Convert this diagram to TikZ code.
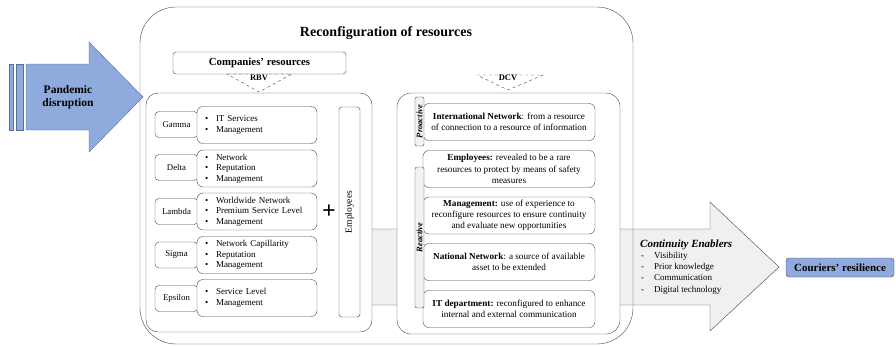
\documentclass[tikz,border=0pt]{standalone}
\usepackage{fontspec}
\setmainfont{Liberation Serif}
\usetikzlibrary{positioning, calc}
\definecolor{shockblue}{RGB}{143, 170, 220}
\definecolor{shockedge}{RGB}{90, 110, 150}
\definecolor{lineg}{RGB}{70, 70, 70}
\definecolor{flowgray}{RGB}{240, 240, 240}
\newcommand{\blt}{\makebox[11pt][l]{\textbullet}}
\newcommand{\dsh}{\makebox[13pt][l]{-}}

\begin{document}
\begin{tikzpicture}[
    x=1pt, y=-1pt,
    firmbox/.style={draw=lineg, thin, fill=white, rounded corners=4pt, minimum width=43pt, minimum height=26pt, inner sep=0pt, font=\fontsize{8.8pt}{10pt}\selectfont},
    resbox/.style={draw=lineg, thin, fill=white, rounded corners=6pt, text width=104pt, inner xsep=8pt, inner ysep=0pt, align=left, minimum height=37pt, font=\fontsize{9pt}{10.6pt}\selectfont},
    dcvbox/.style={draw=lineg, thin, fill=white, rounded corners=6pt, minimum width=172pt, minimum height=37pt, inner sep=0pt, align=center, font=\fontsize{9.2pt}{11.2pt}\selectfont},
    sidetab/.style={draw=lineg, thin, fill=gray!10, rounded corners=2pt, minimum width=9pt, inner sep=0pt},
    tabtext/.style={rotate=90, inner sep=0pt, font=\bfseries\itshape\fontsize{8.5pt}{9pt}\selectfont},
    viewtri/.style={draw=lineg, thin, dashed},
    viewlbl/.style={fill=white, inner sep=0.6pt, font=\bfseries\fontsize{8.5pt}{9pt}\selectfont}
]
    \useasboundingbox (0,0) rectangle (896,346);

    % --- Continuity flow (behind the boxes) ---
    \draw[draw=lineg, thin, fill=flowgray] (300,229) -- (710,229) -- (710,202) -- (779,267) -- (710,331) -- (710,305) -- (300,305) -- cycle;

    % --- Title and RBV ---
    \node[font=\bfseries\fontsize{14pt}{16pt}\selectfont] (title) at (386,33) {Reconfiguration of resources};
    \node[draw=lineg, thin, rounded corners=3pt, minimum width=173pt, minimum height=22pt, font=\bfseries\fontsize{10.8pt}{12pt}\selectfont] (compres) at (259.5,63) {Companies' resources};
    \draw[viewtri] (227,74) -- (292,74) -- (259,92) -- cycle;
    \node[viewlbl] (rbv) at (259,77.5) {RBV};

    \node[draw=lineg, thin, fill=white, rounded corners=12pt, minimum width=226pt, minimum height=239pt] (rbvarea) at (259,212.5) {};

    \node[firmbox] (gamma) at (176.5,124.5) {Gamma};
    \node[resbox] (gammares) at (257,125) {\blt IT Services\\\blt Management};
    \node[firmbox] (delta) at (176.5,167.5) {Delta};
    \node[resbox] (deltares) at (257,168.5) {\blt Network\\\blt Reputation\\\blt Management};
    \node[firmbox] (lambda) at (176.5,211.5) {Lambda};
    \node[resbox] (lambdares) at (257,211.5) {\blt Worldwide Network\\\blt Premium Service Level\\\blt Management};
    \node[firmbox] (sigma) at (176.5,255) {Sigma};
    \node[resbox] (sigmares) at (257,255) {\blt Network Capillarity\\\blt Reputation\\\blt Management};
    \node[firmbox] (epsilon) at (176.5,298.5) {Epsilon};
    \node[resbox] (epsilonres) at (257,298) {\blt Service Level\\\blt Management};

    \node[font=\bfseries\fontsize{24pt}{24pt}\selectfont, inner sep=0pt] (plus) at (329,212) {+};
    \node[draw=lineg, thin, fill=white, rounded corners=3pt, minimum width=21pt, minimum height=210pt] (emp) at (349.5,212) {};
    \node[rotate=90, font=\fontsize{9.5pt}{10pt}\selectfont] (emptext) at (emp) {Employees};

    % --- DCV ---
    \draw[viewtri] (477,75) -- (543,75) -- (508,90) -- cycle;
    \node[viewlbl] (dcv) at (508,78) {DCV};

    \node[draw=lineg, thin, fill=white, rounded corners=14pt, minimum width=223pt, minimum height=241pt] (dcvarea) at (508.5,213.5) {};

    \node[dcvbox] (intnet) at (509,122) {\textbf{International Network}: from a resource\\of connection to a resource of information};
    \node[dcvbox] (staff) at (509,169) {\textbf{Employees:} revealed to be a rare\\resources to protect by means of safety\\measures};
    \node[dcvbox] (mgmt) at (509,215.5) {\textbf{Management:} use of experience to\\reconfigure resources to ensure continuity\\and evaluate new opportunities};
    \node[dcvbox] (natnet) at (509,262) {\textbf{National Network}: a source of available\\asset to be extended};
    \node[dcvbox] (itdep) at (509,309) {\textbf{IT department:} reconfigured to enhance\\internal and external communication};

    \node[sidetab, minimum height=49pt] (proact) at (419.5,121.5) {};
    \node[tabtext] at (proact) {Proactive};
    \node[sidetab, minimum height=141pt] (react) at (419.5,237.5) {};
    \node[tabtext] at (react) {Reactive};

    % --- outer frame on top of the flow ---
    \draw[lineg, thin, rounded corners=36pt] (140,7) rectangle (633,344);

    % --- Pandemic disruption ---
    \fill[shockblue, draw=shockedge, thin] (9,64) rectangle (13,130);
    \fill[shockblue, draw=shockedge, thin] (16,64) rectangle (23,130);
    \draw[shockedge, thin, fill=shockblue] (26,64) -- (89,64) -- (89,42) -- (143,97) -- (89,152) -- (89,130) -- (26,130) -- cycle;
    \node[align=center, font=\bfseries\fontsize{11.5pt}{13.5pt}\selectfont] (pandemic) at (68,97) {Pandemic\\disruption};

    % --- Enablers and outcome ---
    \node[anchor=south west, inner sep=0pt, font=\bfseries\itshape\fontsize{11pt}{13pt}\selectfont] (enablers) at (640,250) {Continuity Enablers};
    \node[anchor=north west, inner sep=0pt, align=left, font=\fontsize{9pt}{11.2pt}\selectfont] (enablist) at (641,252) {\dsh Visibility\\\dsh Prior knowledge\\\dsh Communication\\\dsh Digital technology};

    \node[draw=lineg, thin, fill=shockblue, rounded corners=3pt, minimum width=108pt, minimum height=19pt, inner sep=0pt, font=\bfseries\fontsize{11pt}{12pt}\selectfont] (resil) at (840,267.5) {Couriers' resilience};

\end{tikzpicture}
\end{document}
